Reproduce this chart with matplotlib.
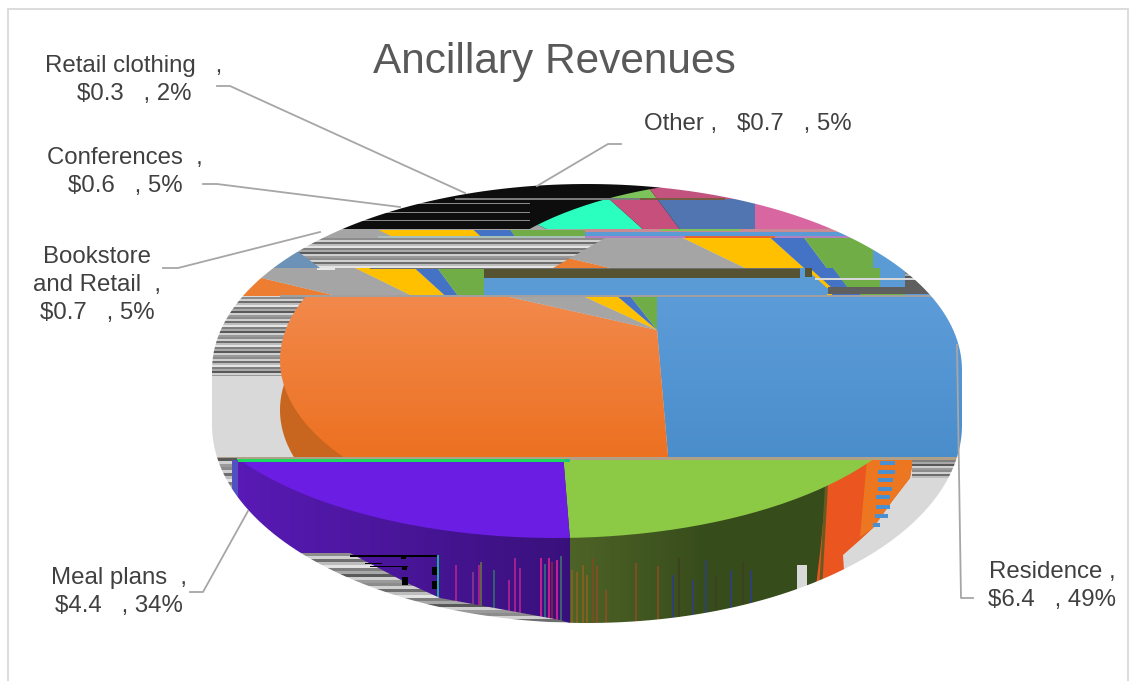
import numpy as np
import matplotlib
matplotlib.use('Agg')
import matplotlib.pyplot as plt
from matplotlib.colors import to_rgb
from matplotlib.patches import Polygon, Rectangle, PathPatch
from matplotlib.path import Path
from matplotlib.transforms import Bbox

plt.rcParams['font.family'] = ['Liberation Sans', 'DejaVu Sans']

# chart data
categories = ['Residence', 'Meal plans', 'Bookstore and Retail', 'Conferences', 'Retail clothing', 'Other']
revenues = [6.4, 4.4, 0.7, 0.6, 0.3, 0.7]
percents = [49, 34, 5, 5, 2, 5]
title = 'Ancillary Revenues'

# label texts, same order as categories
label_texts = [
    'Residence ,\n$6.4   , 49%',
    'Meal plans  ,\n$4.4   , 34%',
    'Bookstore\nand Retail  ,\n$0.7   , 5%',
    'Conferences  ,\n$0.6   , 5%',
    'Retail clothing   ,\n$0.3   , 2%',
    'Other ,   $0.7   , 5%',
]
label_xy = [(1052, 586), (119, 592), (97, 285), (125, 172), (134, 80), (748, 124)]
leaders = [
    [(957, 345), (961, 598), (973, 598)],
    [(190, 592), (203, 592), (248, 511)],
    [(163, 268), (178, 268), (320, 232)],
    [(203, 184), (217, 184), (400, 207)],
    [(217, 86), (230, 86), (465, 193)],
    [(621, 144), (608, 144), (537, 186)],
]

# colours
BLUE, ORANGE, GRAY, YELLOW, BLUE2, GREEN = '#5B9BD5', '#ED7D31', '#A5A5A5', '#FFC000', '#4472C4', '#70AD47'
office = [BLUE, ORANGE, GRAY, YELLOW, BLUE2, GREEN]
top_row = ['#D866A0', '#0D0D0D', '#0D0D0D', '#7DC35B', '#7DC35B', '#C2527E']
second_row = ['#D866A0', '#0D0D0D', GRAY, '#2BFFC0', '#C64F7C', '#5075B0']
lower_row = ['#8CC944', '#6C1DE4', GRAY, YELLOW, BLUE2, GREEN]
stripe_grays = ['#8C8C8C', '#D0D0D0', '#6E6E6E', '#BDBDBD', '#E4E4E4', '#7F7F7F', '#A8A8A8', '#595959', '#CFCFCF', '#9A9A9A']

# streaks on the side wall: x, top y, colour
streak_x = [455, 472, 478, 480, 493, 508, 514, 519, 540, 544, 548, 551, 556, 560, 571, 576, 582, 586, 592, 596,
            605, 635, 657, 672, 678, 692, 705, 715, 730, 742, 750]
streak_top = [565, 572, 565, 562, 570, 580, 558, 568, 558, 564, 558, 562, 560, 556, 570, 572, 565, 575, 558, 566,
              590, 563, 566, 575, 558, 580, 560, 575, 570, 562, 570]
streak_col = ['#A02090', '#803090', '#A02090', '#606050', '#306070', '#A02090', '#A02090', '#A02090', '#C02090', '#306080',
              '#C02090', '#802040', '#C02090', '#406070', '#806020', '#806020', '#806020', '#806020', '#705020', '#805020',
              '#805020', '#7A5020', '#7A5020', '#304070', '#404020', '#304070', '#304070', '#404020', '#304070', '#404020', '#304070']

fig = plt.figure(figsize=(11.30, 6.81), dpi=100)
ax = fig.add_axes([0, 0, 1, 1])
ax.set_xlim(0, 1130)
ax.set_ylim(681, 0)
ax.axis('off')


def blend(c0, c1, t):
    return tuple(np.array(to_rgb(c0)) * (1 - t) + np.array(to_rgb(c1)) * t)


def box(y0, y1, x0=0, x1=1130):
    return Bbox.from_extents(x0, 681 - y1, x1, 681 - y0)


def ellipse_path(cx, cy, a, b):
    t = np.linspace(0, 2 * np.pi, 300)
    return Path(np.column_stack([cx + a * np.cos(t), cy + b * np.sin(t)]))


def add(p, y0=0, y1=681, x0=0, x1=1130, clip=None):
    ax.add_patch(p)
    p.set_clip_path(None)
    p.set_clip_box(box(y0, y1, x0, x1))
    if clip is not None:
        # agg keeps the mask of the last clip path, so every patch needs its own
        p.set_clip_path(Path(clip.vertices.copy()), ax.transData)
    return p


def rect(xa, ya, xb, yb, color, **kw):
    return add(Rectangle((xa, ya), xb - xa, yb - ya, fc=color, ec='none', lw=0), **kw)


def poly(pts, color, **kw):
    return add(Polygon(pts, closed=True, fc=color, ec='none', lw=0), **kw)


def pie_band(cx, cy, k, y0, y1, colors, x0=0, x1=1130, start=0, clip=None):
    # the whole pie from the revenue values, only a slice of it is shown
    fracs = np.array(revenues) / sum(revenues)
    edges = np.concatenate([[0], np.cumsum(fracs)]) * 360 + start
    a = 2500.0
    b = a / k
    for i, c in enumerate(colors):
        t = np.radians(np.linspace(edges[i], edges[i + 1], 60))
        pts = np.column_stack([cx + a * np.sin(t), cy - b * np.cos(t)])
        pts = np.vstack([[cx, cy], pts])
        poly(pts, c, y0=y0, y1=y1, x0=x0, x1=x1, clip=clip)


def stripes(y0, y1, h=2, clip=None, x0=0, x1=1130, shift=0):
    for i, y in enumerate(np.arange(y0, y1, h)):
        rect(x0, y, x1, y + h, stripe_grays[(i + shift) % len(stripe_grays)], clip=clip)


# base of the silhouette
rect(150, 150, 1000, 660, '#D9D9D9')

# top rows, black back
rect(150, 180, 1000, 229, '#0D0D0D')
top_edge = ellipse_path(755, 330, 305, 150)
pie_band(755, 330, 2.14, 180, 199, top_row, clip=top_edge)
pie_band(755, 330, 2.14, 199, 229, second_row, clip=top_edge)
for y in [203, 212, 220]:
    rect(330, y, 530, y + 1, '#8A8A8A')
rect(455, 198, 640, 200, '#7A7A7A')
rect(640, 198, 725, 199.5, '#7A5A40')

# strip at 229-238
rect(150, 229, 585, 238, GRAY)
pie_band(585, 330, 2.14, 230, 236, office, x1=585)
rect(378, 236, 585, 238, '#A8C0B8')
rect(585, 229, 1000, 232, '#C98A94')
rect(660, 229, 740, 231, '#7DC35B')
rect(585, 232, 1000, 236, BLUE)
rect(585, 236, 1000, 238, '#B080C0')

# rows 238-268
pie_band(873, 330, 2.14, 238, 268, office)
rect(685, 236, 775, 238, '#E8642C')
stripe_clip = Path([(150, 238), (605, 238), (553, 268), (150, 268), (150, 238)])
stripes(238, 268, h=2, clip=stripe_clip)
poly([(258, 268), (272, 250), (296, 250), (320, 268)], '#6D92B8')
poly([(268, 253), (275, 250), (297, 250), (290, 253)], '#8FBCE4')

# rows 268-295
pie_band(484, 331, 2.12, 268, 296, office)
rect(484, 268, 805, 278, '#555331')
rect(317, 268, 335, 270, '#E8E8E8')
rect(370, 268, 805, 269, '#707070')
pie_band(880, 331, 2.14, 268, 288, office, x0=805)
poly([(800, 268), (805, 268), (827, 288), (827, 296), (800, 296)], BLUE)
rect(805, 268, 812, 277, '#555331')
rect(828, 287, 945, 294, '#5F5F5F')
rect(905, 268, 1000, 294, '#5F5F5F')
stripes(268, 280, h=2, x0=905, x1=950, shift=3)
rect(815, 278, 922, 280, '#D8D8D8')
rect(827, 294, 832, 296, YELLOW)
rect(832, 294, 860, 296, BLUE2)
rect(860, 294, 905, 296, GREEN)
rect(280, 295, 958, 297, '#A0A0A0')

# central band with the left block
stripes(297, 376, h=2, x0=150, x1=330)
rect(150, 376, 330, 457, '#D9D9D9')
wall_clip = ellipse_path(657, 410, 377, 175)
rect(250, 297, 400, 457, '#C8651F', clip=wall_clip)
face_clip = ellipse_path(657, 360, 377, 175)
for y in range(297, 457, 4):
    t = (y - 297) / 160
    row = [blend('#5B9BD8', '#4A8DCB', t), blend('#F1884A', '#EC7020', t), GRAY, YELLOW, BLUE2, GREEN]
    pie_band(657, 330, 2.26, y, y + 4, row, clip=face_clip, start=1.9 if y >= 330 else 0)
rect(215, 457, 960, 460, '#B0A088')

# lower side wall
for x in np.arange(215, 570, 5):
    t = (x - 215) / 355
    rect(x, 460, x + 5, 640, blend('#5A1AB8', '#38107A', t))
for x in np.arange(570, 835, 5):
    t = (x - 570) / 265
    rect(x, 460, x + 5, 640, blend('#4C6226', '#374C1B', min(t * 2, 1)))
for x, top, c in zip(streak_x, streak_top, streak_col):
    rect(x, top, x + 1.5, 640, c)

# right of the wall
rect(835, 460, 1000, 640, '#D9D9D9')
rect(797, 565, 807, 600, '#D9D9D9')
poly([(870, 460), (827, 483), (820, 553), (815, 595), (845, 585), (843, 555), (860, 540), (873, 528),
      (893, 500), (910, 478), (913, 460)], '#EA5520')
poly([(867, 460), (860, 537), (873, 528), (893, 500), (910, 478), (913, 460)], '#ED7720')
for xa, xb, y in [(880, 895, 461), (878, 895, 470), (878, 893, 478), (878, 892, 487),
                  (876, 890, 495), (876, 890, 505), (875, 888, 514), (873, 880, 523)]:
    rect(xa, y, xb, y + 4, '#4A90D0')
poly([(825, 485), (828, 485), (822, 590), (819, 590)], '#6A5A20')
stripes(460, 478, h=2, x0=912, x1=960, shift=5)

# lower face
lower_clip = ellipse_path(556, 368, 376, 170)
pie_band(556, 368, 2.2, 460, 640, lower_row, start=2, clip=lower_clip)
rect(236, 459, 565, 462, '#1ED760')
rect(565, 459, 570, 462, '#20C080')

# left edge
stripes(458, 497, h=3, x0=215, x1=237, shift=7)
rect(232, 460, 238, 497, '#5050C0')

# glitches in the bottom of the wall
bottom_clip = Path([(295, 553), (350, 553), (405, 582), (440, 598), (560, 620), (572, 624),
                    (572, 640), (295, 640), (295, 553)])
stripes(553, 640, h=3, clip=bottom_clip, x0=295, x1=575)
rect(350, 555, 437, 557, '#000000')
rect(437, 555, 439, 597, '#20A8A0')
for xa, ya, xb, yb in [(365, 563, 382, 564), (370, 566, 408, 567), (401, 556, 406, 559), (402, 566, 407, 570),
                       (402, 577, 408, 585), (432, 567, 437, 575), (432, 581, 437, 589)]:
    rect(xa, ya, xb, yb, '#000000')

# white outside the pie
t = np.linspace(np.pi, 0, 120)
upper = np.column_stack([587 + 375 * np.cos(t), 370 - 186 * np.sin(t)])
t = np.linspace(0, -np.pi, 120)
lower = np.column_stack([587 + 375 * np.cos(t), 425 - 198 * np.sin(t)])
sil = np.vstack([upper, lower, upper[:1]])[::-1]
outer = np.array([(0, 0), (1130, 0), (1130, 681), (0, 681), (0, 0)])
verts = np.vstack([outer, sil])
codes = [Path.MOVETO] + [Path.LINETO] * 3 + [Path.CLOSEPOLY] + [Path.MOVETO] + [Path.LINETO] * (len(sil) - 2) + [Path.CLOSEPOLY]
ax.add_patch(PathPatch(Path(verts, codes), fc='white', ec='none', lw=0))

# frame
ax.plot([8, 8], [681, 9], color='#D9D9D9', lw=1.3)
ax.plot([8, 1128], [9, 9], color='#D9D9D9', lw=1.3)
ax.plot([1128, 1128], [9, 681], color='#D9D9D9', lw=1.3)

for pts in leaders:
    xs, ys = zip(*pts)
    ax.plot(xs, ys, color='#A6A6A6', lw=1.3)

ax.text(554, 62, title, ha='center', va='center', fontsize=30.5, color='#595959')
for txt, (x, y) in zip(label_texts, label_xy):
    ax.text(x, y, txt, ha='center', va='center', ma='center', fontsize=17.3, color='#404040', linespacing=1.37)

fig.savefig('out.png', dpi=100)
